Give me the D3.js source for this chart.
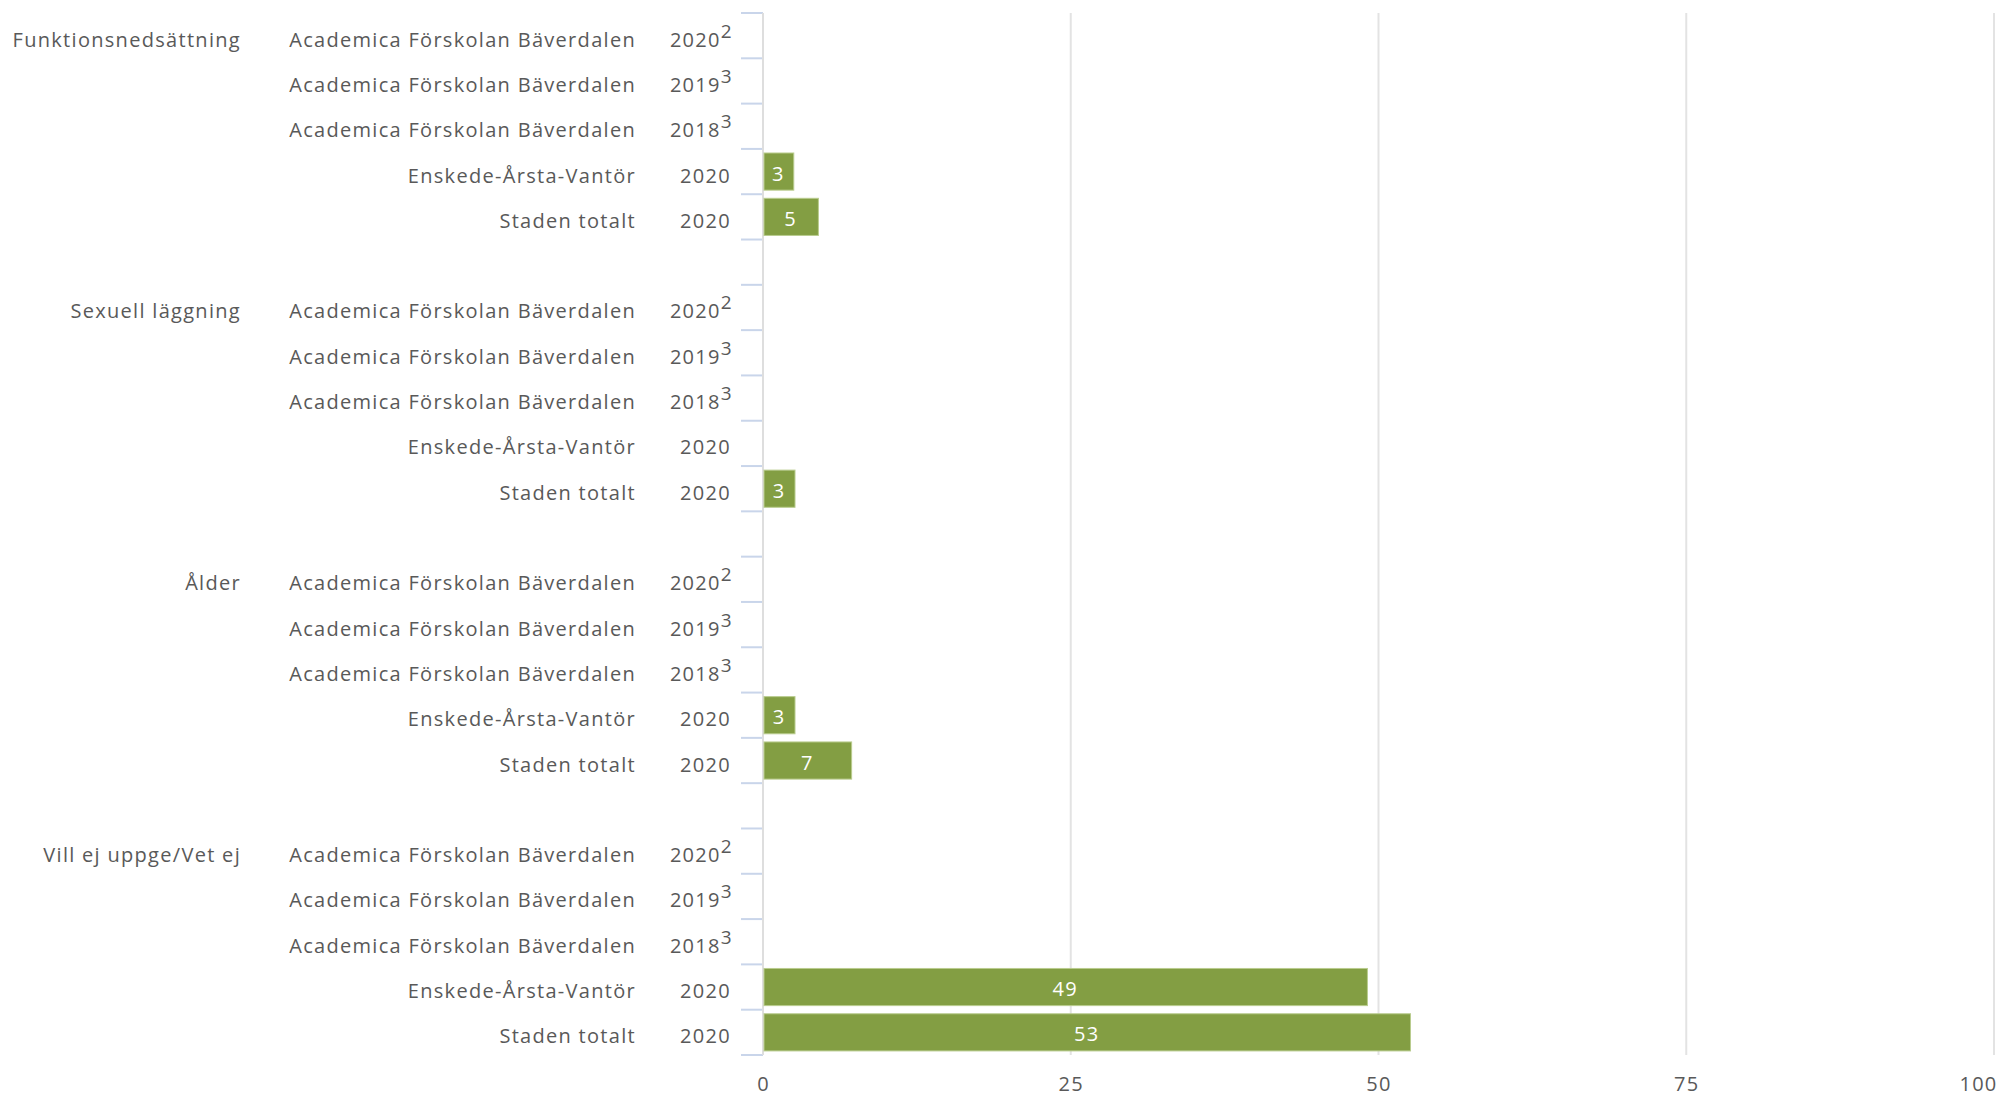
<!DOCTYPE html>
<html>
<head>
<meta charset="utf-8">
<script src="https://cdn.jsdelivr.net/npm/d3@7"></script>
<style>
  html, body { margin: 0; padding: 0; background: #fff; }
  svg { display: block; font-family: "Open Sans", sans-serif; }
</style>
</head>
<body>
<svg id="chart" width="1998" height="1100"></svg>
<script>
// ---- data ----
const groups = ["Funktionsnedsättning", "Sexuell läggning", "Ålder", "Vill ej uppge/Vet ej"];
const units = ["Academica Förskolan Bäverdalen", "Academica Förskolan Bäverdalen", "Academica Förskolan Bäverdalen", "Enskede-Årsta-Vantör", "Staden totalt"];
const years = ["2020", "2019", "2018", "2020", "2020"];
const footnotes = ["2", "3", "3", "", ""];
const valuesFunktion = [null, null, null, 2.5, 4.5];
const valuesSexuell  = [null, null, null, null, 2.6];
const valuesAlder    = [null, null, null, 2.6, 7.2];
const valuesVillEj   = [null, null, null, 49.1, 52.6];
const xTicks = [0, 25, 50, 75, 100];

const groupValues = [valuesFunktion, valuesSexuell, valuesAlder, valuesVillEj];

// build row list (with a blank slot between groups)
const rows = [];
groups.forEach((g, gi) => {
  units.forEach((u, ui) => {
    rows.push({ id: `r${gi}_${ui}`, group: g, first: ui === 0, unit: u, year: years[ui], note: footnotes[ui], value: groupValues[gi][ui] });
  });
  if (gi < groups.length - 1) rows.push({ id: `gap${gi}`, gap: true });
});

const svg = d3.select("#chart");
const x = d3.scaleLinear().domain([0, 100]).range([763, 1994]);
const y = d3.scaleBand().domain(rows.map(r => r.id)).range([13, 1055]).paddingInner(0).paddingOuter(0);
const bw = y.bandwidth();

const textColor = "#595959";
const fs = 20;
const ls = 1.3;
const textDy = 4; // small downward nudge of row labels

// gridlines
svg.append("g").selectAll("line").data(xTicks.filter(t => t > 0)).join("line")
  .attr("x1", d => x(d)).attr("x2", d => x(d))
  .attr("y1", 13).attr("y2", 1055)
  .attr("stroke", "#e3e3e3").attr("stroke-width", 2);

// bottom axis labels
const xAxis = d3.axisBottom(x).tickValues(xTicks).tickSize(0).tickPadding(0);
const gx = svg.append("g").attr("transform", "translate(0,1077)").call(xAxis);
gx.select(".domain").remove();
gx.selectAll("text").attr("fill", textColor).attr("font-size", fs).attr("dy", "0.71em")
  .attr("letter-spacing", ls)
  .attr("font-family", "Open Sans, sans-serif");
// keep the last label inside the picture edge
gx.selectAll(".tick").filter(d => d === 100).select("text").attr("x", -16);

// y axis line + ticks at band boundaries
const boundaries = rows.map(r => y(r.id)).concat([y.range()[1]]);
svg.append("g").selectAll("line").data(boundaries).join("line")
  .attr("x1", 741).attr("x2", 763)
  .attr("y1", d => d).attr("y2", d => d)
  .attr("stroke", "#c9d5ea").attr("stroke-width", 2);
svg.append("line").attr("x1", 763).attr("x2", 763).attr("y1", 13).attr("y2", 1055)
  .attr("stroke", "#dedede").attr("stroke-width", 2);

const dataRows = rows.filter(r => !r.gap);

// bars
const barRows = dataRows.filter(r => r.value != null);
svg.append("g").selectAll("rect").data(barRows).join("rect")
  .attr("x", x(0) + 1)
  .attr("y", d => y(d.id) + bw * 0.09)
  .attr("width", d => x(d.value) - x(0) - 1)
  .attr("height", bw * 0.82)
  .attr("fill", "#839e43")
  .attr("stroke", "#b9cc8e").attr("stroke-width", 1);

// value labels
svg.append("g").selectAll("text").data(barRows).join("text")
  .attr("x", d => (x(0) + x(d.value)) / 2)
  .attr("y", d => y(d.id) + bw / 2 + 2)
  .attr("dy", "0.35em")
  .attr("text-anchor", "middle")
  .attr("fill", "#ffffff")
  .attr("font-size", fs).attr("letter-spacing", ls)
  .text(d => Math.round(d.value));

// group labels
svg.append("g").selectAll("text").data(dataRows.filter(r => r.first)).join("text")
  .attr("x", 241).attr("y", d => y(d.id) + bw / 2 + textDy).attr("dy", "0.35em")
  .attr("text-anchor", "end").attr("fill", textColor).attr("font-size", fs).attr("letter-spacing", ls)
  .text(d => d.group);

// unit labels
svg.append("g").selectAll("text").data(dataRows).join("text")
  .attr("x", 636).attr("y", d => y(d.id) + bw / 2 + textDy).attr("dy", "0.35em")
  .attr("text-anchor", "end").attr("fill", textColor).attr("font-size", fs).attr("letter-spacing", ls)
  .text(d => d.unit);

// year labels with footnote superscripts
const yl = svg.append("g").selectAll("text").data(dataRows).join("text")
  .attr("x", d => d.note ? 733 : 731).attr("y", d => y(d.id) + bw / 2 + textDy).attr("dy", "0.35em")
  .attr("text-anchor", "end").attr("fill", textColor).attr("font-size", fs).attr("letter-spacing", ls);
yl.append("tspan").text(d => d.year);
yl.filter(d => d.note).append("tspan").attr("dy", -9).attr("font-size", 19).text(d => d.note);
</script>
</body>
</html>
